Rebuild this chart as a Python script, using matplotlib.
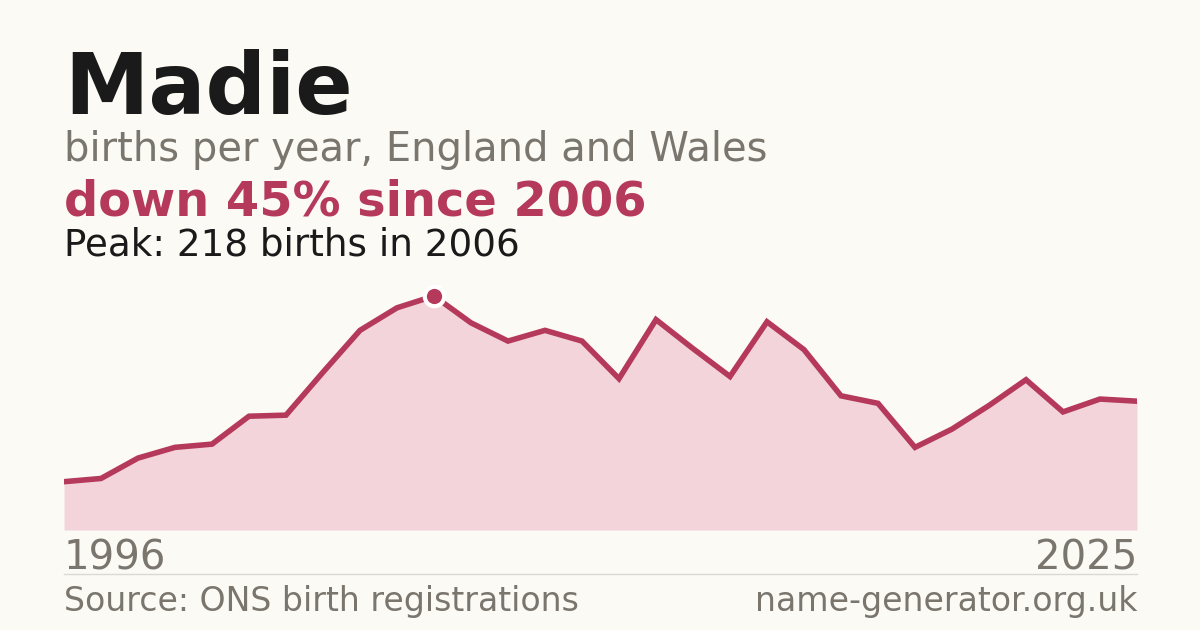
import matplotlib
matplotlib.use("Agg")
import matplotlib.pyplot as plt
from matplotlib.lines import Line2D

# data
years = list(range(1996, 2026))
births = [45, 48, 67, 77, 80, 106, 107, 147, 186, 207,
          218, 193, 176, 186, 176, 141, 196, 169, 143, 194,
          168, 125, 118, 77, 94, 116, 140, 110, 122, 120]

name = "Madie"
subtitle = "births per year, England and Wales"
headline = "down 45% since 2006"
peak_note = "Peak: 218 births in 2006"
source = "Source: ONS birth registrations"
site = "name-generator.org.uk"

bg = "#fbfaf5"
red = "#b5395a"
fill = "#f2d4da"
grey = "#7a756d"
W, H = 1200, 630

fig = plt.figure(figsize=(12, 6.3), dpi=100, facecolor=bg)
plt.rcParams['font.family'] = ['DejaVu Sans']

ax = fig.add_axes([64 / W, 1 - 530 / H, (1137 - 64) / W, 250 / H])
ax.set_facecolor(bg)
ax.fill_between(years, births, 0, color=fill, linewidth=0)
ax.plot(years, births, color=red, linewidth=4, solid_joinstyle="miter")

pk = births.index(max(births))
ax.plot(years[pk], births[pk], marker="o", markersize=14, color=red,
        markeredgecolor="white", markeredgewidth=3, zorder=5)

ax.set_xlim(years[0], years[-1])
ax.set_ylim(0, max(births) * 250 / 234)
ax.axis("off")

fig.text(64 / W, 1 - 114 / H, name, fontsize=61, fontweight="bold",
         color="#1a1a1a", va="baseline")
fig.text(64 / W, 1 - 161 / H, subtitle, fontsize=28.8, color=grey, va="baseline")
fig.text(64 / W, 1 - 215 / H, headline, fontsize=34.5, fontweight="bold",
         color=red, va="baseline")
fig.text(64 / W, 1 - 255 / H, peak_note, fontsize=26.8, color="#1a1a1a", va="baseline")

fig.text(64 / W, 1 - 570 / H, str(years[0]), fontsize=28.9, color=grey, va="baseline")
fig.text(1137 / W, 1 - 570 / H, str(years[-1]), fontsize=28.9, color=grey,
         va="baseline", ha="right")

fig.add_artist(Line2D([64 / W, 1137 / W], [1 - 574 / H, 1 - 574 / H],
                      color="#dcd9d2", linewidth=1))

fig.text(64 / W, 1 - 611 / H, source, fontsize=23.9, color=grey, va="baseline")
fig.text(1137 / W, 1 - 611 / H, site, fontsize=23.9, color=grey, va="baseline", ha="right")

fig.savefig("out.png", dpi=100, facecolor=bg)
